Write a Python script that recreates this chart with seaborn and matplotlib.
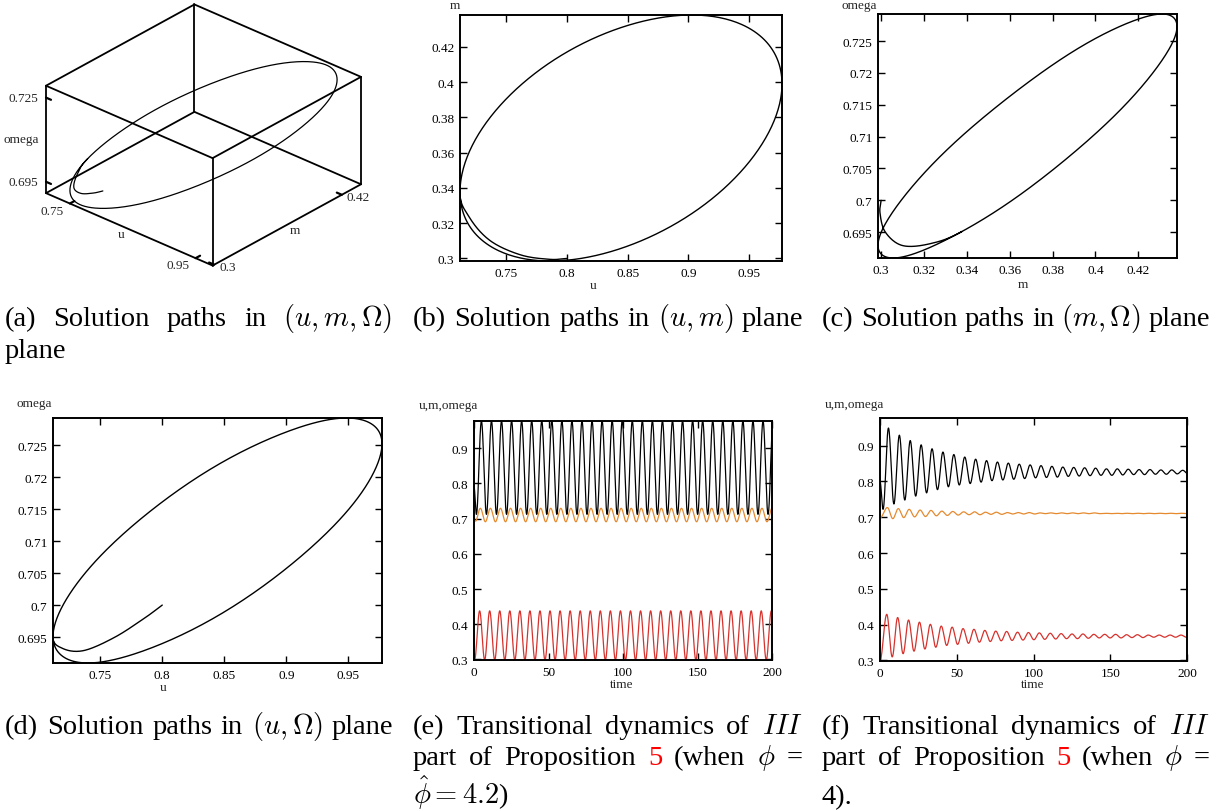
import numpy as np
import pandas as pd
import matplotlib
matplotlib.use("Agg")
import matplotlib.pyplot as plt
import matplotlib.ticker as mticker
import matplotlib.transforms as mtransforms
import seaborn as sns
from mpl_toolkits.mplot3d import proj3d

# ---------------- data ----------------
# limit cycle (phi = 4.2): 16 samples over one period
cycle_u = [0.9770, 0.9669, 0.9382, 0.8952, 0.8445, 0.7938, 0.7508, 0.7221,
           0.7120, 0.7221, 0.7508, 0.7938, 0.8445, 0.8952, 0.9382, 0.9669]
cycle_m = [0.3989, 0.3726, 0.3456, 0.3221, 0.3057, 0.2987, 0.3024, 0.3161,
           0.3377, 0.3641, 0.3910, 0.4145, 0.4309, 0.4379, 0.4342, 0.4205]
cycle_omega = [0.7252, 0.7195, 0.7124, 0.7050, 0.6983, 0.6935, 0.6911, 0.6917,
               0.6951, 0.7007, 0.7078, 0.7152, 0.7219, 0.7267, 0.7291, 0.7285]
cycle_period = 6.75
cycle_join_index = 8

# transient from the initial point onto the cycle
trans_t = [0.0, 0.3, 0.65, 1.0, 1.3, 1.6]
trans_u = [0.800, 0.786, 0.762, 0.737, 0.720, 0.712]
trans_m = [0.300, 0.2995, 0.302, 0.310, 0.323, 0.3377]
trans_omega = [0.700, 0.6980, 0.6950, 0.6929, 0.6932, 0.6951]

# damped case (phi = 4): extrema of each oscillation
f_period = 7.1
f_u_start_t = [0.0, 2.0]
f_u_start_v = [0.800, 0.722]
f_u_first_peak = 5.5
f_u_peaks = [0.949, 0.929, 0.914, 0.902, 0.891, 0.882, 0.875, 0.868, 0.862, 0.858,
             0.854, 0.851, 0.848, 0.846, 0.844, 0.842, 0.840, 0.839, 0.838, 0.837,
             0.835, 0.835, 0.834, 0.833, 0.833, 0.832, 0.832, 0.831]
f_u_troughs = [0.737, 0.748, 0.759, 0.768, 0.777, 0.785, 0.790, 0.794, 0.798, 0.802,
               0.804, 0.806, 0.808, 0.810, 0.811, 0.812, 0.814, 0.815, 0.816, 0.817,
               0.817, 0.818, 0.819, 0.819, 0.820, 0.820, 0.821, 0.821]
f_m_start_t = [0.0]
f_m_start_v = [0.300]
f_m_first_peak = 4.4
f_m_peaks = [0.429, 0.420, 0.413, 0.407, 0.401, 0.396, 0.393, 0.389, 0.387, 0.384,
             0.382, 0.381, 0.379, 0.378, 0.377, 0.376, 0.375, 0.374, 0.374, 0.373,
             0.373, 0.373, 0.372, 0.372, 0.371, 0.371, 0.371, 0.371]
f_m_troughs = [0.310, 0.319, 0.326, 0.332, 0.337, 0.342, 0.345, 0.348, 0.351, 0.353,
               0.355, 0.356, 0.357, 0.358, 0.359, 0.360, 0.361, 0.361, 0.362, 0.363,
               0.363, 0.363, 0.364, 0.364, 0.365, 0.365, 0.365, 0.365]
f_omega_start_t = [0.0]
f_omega_start_v = [0.698]
f_omega_first_peak = 4.8
f_omega_peaks = [0.727, 0.724, 0.722, 0.720, 0.719, 0.717, 0.716, 0.715, 0.715, 0.714,
                 0.714, 0.713, 0.713, 0.713, 0.712, 0.712, 0.712, 0.712, 0.712, 0.712,
                 0.711, 0.711, 0.711, 0.711, 0.711, 0.711, 0.711, 0.711]
f_omega_troughs = [0.696, 0.699, 0.701, 0.702, 0.704, 0.705, 0.706, 0.707, 0.707, 0.708,
                   0.708, 0.709, 0.709, 0.709, 0.710, 0.710, 0.710, 0.710, 0.710, 0.710,
                   0.710, 0.710, 0.710, 0.710, 0.710, 0.710, 0.710, 0.710]

# ticks
plane_u_ticks = [0.75, 0.8, 0.85, 0.9, 0.95]
plane_m_ticks = [0.3, 0.32, 0.34, 0.36, 0.38, 0.4, 0.42]
plane_omega_ticks = [0.695, 0.7, 0.705, 0.71, 0.715, 0.72, 0.725]
time_ticks = [0, 50, 100, 150, 200]
level_ticks = [0.3, 0.4, 0.5, 0.6, 0.7, 0.8, 0.9]
box_u_ticks = [0.75, 0.95]
box_m_ticks = [0.3, 0.42]
box_omega_ticks = [0.695, 0.725]
t_end = 200

C_U, C_M, C_O = "black", "#d6322d", "#e58a2f"

# ---------------- style ----------------
sns.set_style("ticks", {"axes.edgecolor": "black", "xtick.color": "black",
                        "ytick.color": "black", "xtick.direction": "in",
                        "ytick.direction": "in", "xtick.top": True, "ytick.right": True})
plt.rcParams["font.family"] = ["Liberation Serif", "DejaVu Serif"]
plt.rcParams["mathtext.fontset"] = "cm"

W, H = 1223, 812
fig = plt.figure(figsize=(W / 100, H / 100), dpi=100)
fig.patch.set_facecolor("white")
PX = mtransforms.IdentityTransform()
TICK_FS = 9.5
CAP_FS = 20.5


def ftext(x, y, s, **kw):
    return fig.text(x, H - y, s, transform=PX, **kw)


# ---------------- curve construction helpers ----------------
def smooth_cycle(vals, n=400):
    v = np.asarray(vals, float)
    spec = np.fft.rfft(v)
    if len(v) % 2 == 0:
        spec[-1] *= 0.5
    return np.fft.irfft(spec, n) * n / len(v)


def catmull_rom(ctrl, n=30):
    ctrl = np.asarray(ctrl, float)
    s = np.linspace(0, 1, n, endpoint=False)[:, None]
    out = []
    for i in range(1, len(ctrl) - 2):
        p0, p1, p2, p3 = ctrl[i - 1], ctrl[i], ctrl[i + 1], ctrl[i + 2]
        out.append(0.5 * (2 * p1 + (-p0 + p2) * s + (2 * p0 - 5 * p1 + 4 * p2 - p3) * s ** 2
                          + (-p0 + 3 * p1 - 3 * p2 + p3) * s ** 3))
    return np.vstack(out)


def extrema_series(start_t, start_v, first_peak, period, peaks, troughs, n=40):
    ts = list(start_t)
    vs = list(start_v)
    for i, (p, q) in enumerate(zip(peaks, troughs)):
        ts += [first_peak + i * period, first_peak + i * period + period / 2]
        vs += [p, q]
    out_t, out_v = [], []
    s = np.linspace(0, 1, n, endpoint=False)
    for i in range(len(ts) - 1):
        out_t.append(ts[i] + (ts[i + 1] - ts[i]) * s)
        out_v.append(vs[i] + (vs[i + 1] - vs[i]) * (1 - np.cos(np.pi * s)) / 2)
    out_t.append([ts[-1]])
    out_v.append([vs[-1]])
    t = np.concatenate(out_t)
    v = np.concatenate(out_v)
    keep = t <= t_end + 1
    return t[keep], v[keep]


# limit cycle, fine
NP = 400
cu, cmm, co = smooth_cycle(cycle_u, NP), smooth_cycle(cycle_m, NP), smooth_cycle(cycle_omega, NP)
shift = cycle_join_index * NP // len(cycle_u)
cu, cmm, co = np.roll(cu, -shift), np.roll(cmm, -shift), np.roll(co, -shift)

# transient, smooth
pts = np.column_stack([trans_t, trans_u, trans_m, trans_omega])
nk = (cycle_join_index + 1) % len(cycle_u)
nxt = np.array([trans_t[-1] + cycle_period / len(cycle_u), cycle_u[nk], cycle_m[nk], cycle_omega[nk]])
ctrl = np.vstack([2 * pts[0] - pts[1], pts, nxt])
tr = catmull_rom(ctrl)

# phase path: transient + closed cycle
phase_u = np.concatenate([tr[:, 1], cu, cu[:1]])
phase_m = np.concatenate([tr[:, 2], cmm, cmm[:1]])
phase_o = np.concatenate([tr[:, 3], co, co[:1]])

# time series (e)
n_cyc = int(np.ceil((t_end - trans_t[-1]) / cycle_period)) + 1
t_cyc = trans_t[-1] + cycle_period * np.arange(n_cyc * NP) / NP
e_t = np.concatenate([tr[:, 0], t_cyc])
e_u = np.concatenate([tr[:, 1], np.tile(cu, n_cyc)])
e_m = np.concatenate([tr[:, 2], np.tile(cmm, n_cyc)])
e_o = np.concatenate([tr[:, 3], np.tile(co, n_cyc)])
keep = e_t <= t_end + 1
e_t, e_u, e_m, e_o = e_t[keep], e_u[keep], e_m[keep], e_o[keep]

# time series (f)
fu_t, fu_v = extrema_series(f_u_start_t, f_u_start_v, f_u_first_peak, f_period, f_u_peaks, f_u_troughs)
fm_t, fm_v = extrema_series(f_m_start_t, f_m_start_v, f_m_first_peak, f_period, f_m_peaks, f_m_troughs)
fo_t, fo_v = extrema_series(f_omega_start_t, f_omega_start_v, f_omega_first_peak, f_period,
                            f_omega_peaks, f_omega_troughs)

U0, U1 = phase_u.min(), phase_u.max()
M0, M1 = phase_m.min(), phase_m.max()
O0, O1 = phase_o.min(), phase_o.max()

# ---------------- panel (a): 3D ----------------
ax3 = fig.add_axes([0.0, 0.62, 0.33, 0.38], projection="3d")
ax3.set_proj_type("ortho")
ax3.patch.set_visible(False)
ax3.plot(phase_u, phase_m, phase_o, color="black", lw=0.9)
cx = np.array([U0, U1]); cy = np.array([M0, M1]); cz = np.array([O0, O1])
for a in range(2):
    for b in range(2):
        ax3.plot(cx, [cy[a]] * 2, [cz[b]] * 2, color="black", lw=1.3)
        ax3.plot([cx[a]] * 2, cy, [cz[b]] * 2, color="black", lw=1.3)
        ax3.plot([cx[a]] * 2, [cy[b]] * 2, cz, color="black", lw=1.3)
for v in box_u_ticks:
    ax3.plot([v, v], [M0, M0 + 0.03 * (M1 - M0)], [O0, O0], color="black", lw=1.6)
for v in box_m_ticks:
    ax3.plot([U1, U1 - 0.03 * (U1 - U0)], [v, v], [O0, O0], color="black", lw=1.6)
for v in box_omega_ticks:
    ax3.plot([U0, U0 + 0.03 * (U1 - U0)], [M0, M0], [v, v], color="black", lw=1.6)
ax3.set_xlim(U0, U1); ax3.set_ylim(M0, M1); ax3.set_zlim(O0, O1)
ax3.set_box_aspect((1, 1, 0.5515))
ax3.view_init(elev=29.2, azim=-48.3)
ax3.set_axis_off()


def proj_px(ax, x, y, z):
    xs, ys, _ = proj3d.proj_transform(np.atleast_1d(np.asarray(x, float)),
                                      np.atleast_1d(np.asarray(y, float)),
                                      np.atleast_1d(np.asarray(z, float)), ax.get_proj())
    return ax.transData.transform(np.column_stack([xs, ys]))


fig.canvas.draw()
CX, CY, CZ = np.meshgrid(cx, cy, cz)
cp = proj_px(ax3, CX.ravel(), CY.ravel(), CZ.ravel())
bx0, bx1 = cp[:, 0].min(), cp[:, 0].max()
by0, by1 = cp[:, 1].min(), cp[:, 1].max()
tx0, tx1, ty0, ty1 = 46, 361, H - 266, H - 6
s = (tx1 - tx0) / (bx1 - bx0)
abb = ax3.bbox
acx, acy = (abb.x0 + abb.x1) / 2, (abb.y0 + abb.y1) / 2
bcx, bcy = (bx0 + bx1) / 2, (by0 + by1) / 2
tcx, tcy = (tx0 + tx1) / 2, (ty0 + ty1) / 2
pos = ax3.get_position(original=True)
ncx, ncy = tcx - s * (bcx - acx), tcy - s * (bcy - acy)
nw, nh = s * pos.width * W, s * pos.height * H
ax3.set_position([(ncx - nw / 2) / W, (ncy - nh / 2) / H, nw / W, nh / H])
fig.canvas.draw()

for v in box_u_ticks:
    p = proj_px(ax3, v, M0, O0)[0]
    fig.text(p[0] - 6, p[1] - 7, f"{v:g}", ha="right", va="center", transform=PX, fontsize=TICK_FS)
for v in box_m_ticks:
    p = proj_px(ax3, U1, v, O0)[0]
    fig.text(p[0] + 5, p[1] - 2, f"{v:g}", ha="left", va="center", transform=PX, fontsize=TICK_FS)
for v in box_omega_ticks:
    p = proj_px(ax3, U0, M0, v)[0]
    fig.text(p[0] - 8, p[1], f"{v:g}", ha="right", va="center", transform=PX, fontsize=TICK_FS)
p = proj_px(ax3, U0, M0, (O0 + O1) / 2)[0]
fig.text(p[0] - 25, p[1], "omega", ha="center", va="center", transform=PX, fontsize=TICK_FS)
p = proj_px(ax3, (U0 + U1) / 2, M0, O0)[0]
fig.text(p[0] - 8, p[1] - 5, "u", ha="center", va="center", transform=PX, fontsize=TICK_FS)
p = proj_px(ax3, U1, (M0 + M1) / 2, O0)[0]
fig.text(p[0] + 8, p[1] - 5, "m", ha="center", va="center", transform=PX, fontsize=TICK_FS)


# ---------------- 2D panels ----------------
def px_axes(x0, y0, x1, y1):
    return fig.add_axes([x0 / W, (H - y1) / H, (x1 - x0) / W, (y1 - y0) / H])


def line(ax, x, y, color, lw=1.0):
    df = pd.DataFrame({"x": np.asarray(x), "y": np.asarray(y)})
    sns.lineplot(data=df, x="x", y="y", sort=False, estimator=None, color=color,
                 linewidth=lw, ax=ax)


fmt = mticker.FuncFormatter(lambda v, p: f"{v:g}")


def style(ax, xt, yt, xlim, ylim):
    ax.set_xlim(*xlim); ax.set_ylim(*ylim)
    ax.set_xticks(xt); ax.set_yticks(yt)
    ax.xaxis.set_major_formatter(fmt); ax.yaxis.set_major_formatter(fmt)
    ax.tick_params(direction="in", top=True, right=True, length=5, width=1.0,
                   labelsize=TICK_FS, pad=4.0, colors="black")
    for sp in ax.spines.values():
        sp.set_visible(True); sp.set_linewidth(1.4); sp.set_color("black")
    ax.set_xlabel(""); ax.set_ylabel("")
    ax.set_facecolor("white")


# (b)
axb = px_axes(460, 16, 782, 262)
line(axb, phase_u, phase_m, C_U)
style(axb, plane_u_ticks, plane_m_ticks, (U0, U1), (M0, M1))
ftext(455, 0, "m", ha="center", va="top", fontsize=TICK_FS)
ftext(593, 286, "u", ha="center", va="center", fontsize=TICK_FS)

# (c)
axc = px_axes(878, 15, 1177, 259)
line(axc, phase_m, phase_o, C_U)
style(axc, plane_m_ticks, plane_omega_ticks, (M0, M1), (O0, O1))
ftext(859, 0, "omega", ha="center", va="top", fontsize=TICK_FS)
ftext(1023, 285, "m", ha="center", va="center", fontsize=TICK_FS)

# (d)
axd = px_axes(53, 419, 382, 664)
line(axd, phase_u, phase_o, C_U)
style(axd, plane_u_ticks, plane_omega_ticks, (U0, U1), (O0, O1))
ftext(34, 404, "omega", ha="center", va="center", fontsize=TICK_FS)
ftext(163, 688, "u", ha="center", va="center", fontsize=TICK_FS)

# (e)
axe = px_axes(474, 422, 772, 661)
line(axe, e_t, e_u, C_U, 0.9)
line(axe, e_t, e_o, C_O, 0.9)
line(axe, e_t, e_m, C_M, 0.9)
style(axe, time_ticks, level_ticks, (0, t_end), (M0, U1))
ftext(448, 406, "u,m,omega", ha="center", va="center", fontsize=TICK_FS)
ftext(622, 685, "time", ha="center", va="center", fontsize=TICK_FS)

# (f)
axf = px_axes(880, 419, 1187, 662)
line(axf, fu_t, fu_v, C_U, 0.9)
line(axf, fo_t, fo_v, C_O, 0.9)
line(axf, fm_t, fm_v, C_M, 0.9)
style(axf, time_ticks, level_ticks, (0, t_end), (M0, U1))
ftext(854, 405, "u,m,omega", ha="center", va="center", fontsize=TICK_FS)
ftext(1033, 685, "time", ha="center", va="center", fontsize=TICK_FS)

# ---------------- captions ----------------
renderer = fig.canvas.get_renderer()


def caption(words, x0, x1, y, justify=True):
    arts = []
    for w in words:
        sw, c = (w if isinstance(w, tuple) else (w, "black"))
        arts.append(ftext(0, y, sw, color=c, fontsize=CAP_FS, ha="left", va="baseline"))
    widths = [a.get_window_extent(renderer).width for a in arts]
    if justify and len(arts) > 1:
        gap = (x1 - x0 - sum(widths)) / (len(arts) - 1)
    else:
        gap = CAP_FS * 0.3
    x = x0
    for a, wd in zip(arts, widths):
        a.set_position((x, H - y))
        x += wd + gap


caption(["(a)", "Solution", "paths", "in", r"$(u, m, \Omega)$"], 5, 392, 326)
caption(["plane"], 5, 392, 358, justify=False)
caption(["(b)", "Solution", "paths", "in", r"$(u, m)$", "plane"], 413, 803, 326)
caption(["(c)", "Solution", "paths", "in", r"$(m, \Omega)$", "plane"], 822, 1210, 326)
caption(["(d)", "Solution", "paths", "in", r"$(u, \Omega)$", "plane"], 5, 393, 734)
caption(["(e)", "Transitional", "dynamics", "of", r"$III$"], 413, 803, 734)
caption(["part", "of", "Proposition", ("5", "red"), "(when", r"$\phi$", "="], 413, 803, 765)
caption([r"$\hat{\phi} = 4.2$)"], 413, 803, 804, justify=False)
caption(["(f)", "Transitional", "dynamics", "of", r"$III$"], 822, 1210, 734)
caption(["part", "of", "Proposition", ("5", "red"), "(when", r"$\phi$", "="], 822, 1210, 765)
caption(["4)."], 822, 1210, 804, justify=False)

fig.savefig("out.png", dpi=100, facecolor="white")
